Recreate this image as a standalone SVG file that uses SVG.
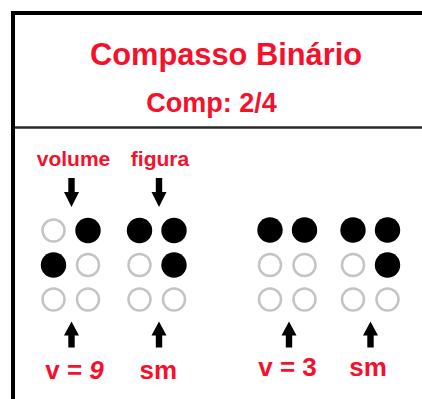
<svg xmlns="http://www.w3.org/2000/svg" width="422" height="399" viewBox="0 0 422 399">
<style>
.t{font-family:"Liberation Sans",Arial,sans-serif;font-weight:bold;fill:#f5102c;text-anchor:middle}
.on{fill:#000}
.off{fill:#fff;stroke:#c4c4c4;stroke-width:2.5}
.arr{fill:#000}
</style>
<defs>
<path id="dn" d="M-3.2,0 H3.2 V14 H7.5 L0,29 L-7.5,14 H-3.2 Z"/>
<path id="up" d="M0,0 L7.5,14 H3.2 V26 H-3.2 V14 H-7.5 Z"/>
</defs>
<rect width="422" height="399" fill="#fff"/>
<g id="frame">
<path d="M13,399 V13 H424" fill="none" stroke="#000" stroke-width="4"/>
<line x1="15" y1="127.5" x2="422" y2="127.5" stroke="#2a2a2a" stroke-width="2.5"/>
</g>
<g id="title">
<text class="t" x="226" y="65" font-size="30.8">Compasso Binário</text>
<text class="t" x="211.5" y="111.5" font-size="27">Comp: 2/4</text>
</g>
<g id="label-volume"><text class="t" x="73.5" y="166" font-size="21">volume</text></g>
<g id="label-figura"><text class="t" x="160" y="166" font-size="21">figura</text></g>
<g id="cell-v9">
<circle class="off" cx="53.5" cy="230.5" r="11"/><circle class="on" cx="88" cy="230.5" r="12.7"/>
<circle class="on" cx="53.5" cy="265" r="12.7"/><circle class="off" cx="88" cy="265" r="11"/>
<circle class="off" cx="53.5" cy="299.5" r="11"/><circle class="off" cx="88" cy="299.5" r="11"/>
</g>
<g id="cell-sm1">
<circle class="on" cx="139.5" cy="230.5" r="12.7"/><circle class="on" cx="174" cy="230.5" r="12.7"/>
<circle class="off" cx="139.5" cy="265" r="11"/><circle class="on" cx="174" cy="265" r="12.7"/>
<circle class="off" cx="139.5" cy="299.5" r="11"/><circle class="off" cx="174" cy="299.5" r="11"/>
</g>
<g id="cell-v3">
<circle class="on" cx="270" cy="230" r="12.7"/><circle class="on" cx="304.5" cy="230" r="12.7"/>
<circle class="off" cx="270" cy="265" r="11"/><circle class="off" cx="304.5" cy="265" r="11"/>
<circle class="off" cx="270" cy="299.5" r="11"/><circle class="off" cx="304.5" cy="299.5" r="11"/>
</g>
<g id="cell-sm2">
<circle class="on" cx="353" cy="230" r="12.7"/><circle class="on" cx="387.5" cy="230" r="12.7"/>
<circle class="off" cx="353" cy="265" r="11"/><circle class="on" cx="387.5" cy="265" r="12.7"/>
<circle class="off" cx="353" cy="299.5" r="11"/><circle class="off" cx="387.5" cy="299.5" r="11"/>
</g>
<g id="connectors" class="arr">
<use href="#dn" x="71.5" y="178"/>
<use href="#dn" x="159" y="178"/>
<use href="#up" x="71.5" y="321.5"/>
<use href="#up" x="159" y="321.5"/>
<use href="#up" x="289" y="321.5"/>
<use href="#up" x="370.5" y="321.5"/>
</g>
<g id="label-v9"><text class="t" x="74.5" y="379" font-size="26">v = <tspan font-style="italic">9</tspan></text></g>
<g id="label-sm1"><text class="t" x="158.3" y="379" font-size="26">sm</text></g>
<g id="label-v3"><text class="t" x="287.5" y="376" font-size="26">v = 3</text></g>
<g id="label-sm2"><text class="t" x="368" y="376" font-size="26">sm</text></g>
</svg>
